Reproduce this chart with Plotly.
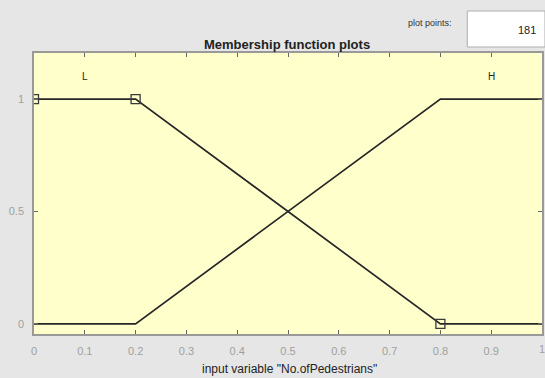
import plotly.graph_objects as go

# Membership functions of input variable "No.ofPedestrians"
x_pts = [0.0, 0.2, 0.8, 1.0]
mf_low = [1.0, 1.0, 0.0, 0.0]     # L
mf_high = [0.0, 0.0, 1.0, 1.0]    # H
# vertices of the selected function (L)
sel_x = [0.0, 0.2, 0.8]
sel_y = [1.0, 1.0, 0.0]
x_ticks = [0, 0.1, 0.2, 0.3, 0.4, 0.5, 0.6, 0.7, 0.8, 0.9, 1]
x_tick_text = ["0", "0.1", "0.2", "0.3", "0.4", "0.5", "0.6", "0.7", "0.8", "0.9", "1"]
y_ticks = [0, 0.5, 1]
y_tick_text = ["0", "0.5", "1"]
plot_points = 181

# plot-area geometry in pixels
W, H = 545, 378
L_, R_, T_, B_ = 34, 1, 53, 44
pw = W - L_ - R_
ph = H - T_ - B_


def px(x):
    return (x - L_) / pw


def py(y):
    return (H - B_ - y) / ph


fig = go.Figure()
fig.add_trace(go.Scatter(x=x_pts, y=mf_low, mode="lines",
                         line=dict(color="#262626", width=1.7), hoverinfo="skip"))
fig.add_trace(go.Scatter(x=x_pts, y=mf_high, mode="lines",
                         line=dict(color="#262626", width=1.7), hoverinfo="skip"))
fig.add_trace(go.Scatter(x=sel_x, y=sel_y, mode="markers",
                         marker=dict(symbol="square-open", size=9,
                                     color="#3a3a3a", line=dict(width=1.3)),
                         hoverinfo="skip"))

font_main = "Liberation Sans, Arial, sans-serif"
tick_font = dict(size=11, color="#a0a0a0")

fig.update_layout(
    width=W, height=H,
    margin=dict(l=L_, r=R_, t=T_, b=B_),
    paper_bgcolor="#e6e6e6",
    plot_bgcolor="#ffffcc",
    showlegend=False,
    font=dict(family=font_main, size=10, color="#999999"),
    xaxis=dict(range=[0, 1], tickvals=x_ticks, ticktext=x_tick_text,
               ticks="inside", ticklen=4, tickcolor="#666666",
               showline=True, linecolor="#999999", linewidth=1.5, mirror="ticks",
               showgrid=False, zeroline=False, ticklabelstandoff=6,
               tickfont=tick_font),
    yaxis=dict(range=[-0.045, 1.205], tickvals=y_ticks, ticktext=y_tick_text,
               ticks="inside", ticklen=4, tickcolor="#666666",
               showline=True, linecolor="#999999", linewidth=1.5, mirror="ticks",
               showgrid=False, zeroline=False, ticklabelstandoff=6,
               tickfont=tick_font),
)

# plot points box
fig.add_shape(type="rect", xref="paper", yref="paper",
              x0=px(469), x1=px(547), y0=py(47), y1=py(11),
              fillcolor="white", line=dict(color="#adadad", width=1))

annotations = [
    dict(text="plot points:", x=px(432), y=py(23), font=dict(size=9, color="#333333")),
    dict(text=str(plot_points), x=px(540), y=py(30), xanchor="right",
         font=dict(size=11, color="#222222")),
    dict(text="<b>Membership function plots</b>", x=px(288), y=py(44),
         font=dict(size=13, color="#222222")),
    dict(text='input variable "No.ofPedestrians"', x=px(291), y=py(369),
         font=dict(size=12, color="#222222")),
    # last x tick label sits at the window edge
    dict(text=x_tick_text[-1], x=1.0, y=py(349), font=tick_font),
]
for a in annotations:
    a.setdefault("xanchor", "center")
    fig.add_annotation(xref="paper", yref="paper", showarrow=False,
                       yanchor="middle", **a)

# function names above each curve
fig.add_annotation(x=0.1, y=1.1, text="L", showarrow=False,
                   font=dict(size=10, color="#222222"))
fig.add_annotation(x=0.9, y=1.1, text="H", showarrow=False,
                   font=dict(size=10, color="#222222"))

fig.write_html("out.html")
